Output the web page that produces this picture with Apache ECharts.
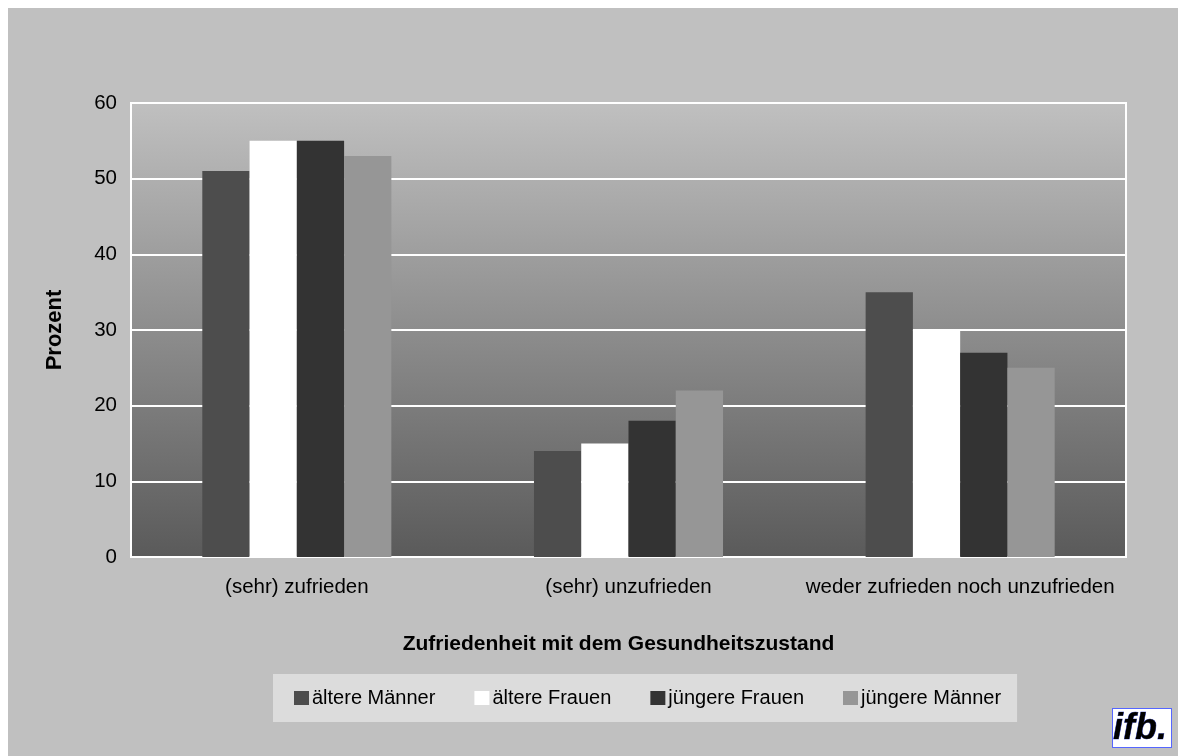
<!DOCTYPE html>
<html>
<head>
<meta charset="utf-8">
<script src="https://cdn.jsdelivr.net/npm/echarts@6/dist/echarts.min.js"></script>
<style>
  body { margin: 8px 0 0 8px; background: #ffffff; }
  #chart { width: 1170px; height: 748px; background: #c0c0c0; }
</style>
</head>
<body>
<div id="chart"></div>
<script>
// Kategorien und Werte (Prozent)
const categories = ["(sehr) zufrieden", "(sehr) unzufrieden", "weder zufrieden noch unzufrieden"];
const seriesNames = ["ältere Männer", "ältere Frauen", "jüngere Frauen", "jüngere Männer"];
const aeltereMaenner = [51, 14, 35];
const aeltereFrauen = [55, 15, 30];
const juengereFrauen = [55, 18, 27];
const juengereMaenner = [53, 22, 25];
const yTicks = [0, 10, 20, 30, 40, 50, 60];

const colors = ["#4d4d4d", "#ffffff", "#333333", "#969696"];
const values = [aeltereMaenner, aeltereFrauen, juengereFrauen, juengereMaenner];
const font = "Liberation Sans, Arial, sans-serif";

const chart = echarts.init(document.getElementById("chart"));

const option = {
  backgroundColor: "#c0c0c0",
  animation: false,
  textStyle: { fontFamily: font, color: "#000" },
  grid: {
    left: 123,
    top: 95,
    width: 995,
    height: 454,
    show: true,
    borderColor: "#ffffff",
    borderWidth: 2,
    backgroundColor: new echarts.graphic.LinearGradient(0, 0, 0, 1, [
      { offset: 0, color: "#c0c0c0" },
      { offset: 1, color: "#5a5a5a" },
    ]),
  },
  legend: {
    data: seriesNames,
    left: 265,
    top: 666,
    padding: [14, 16, 14, 21],
    backgroundColor: "#dcdcdc",
    itemWidth: 15,
    itemHeight: 14,
    itemGap: 39,
    icon: "rect",
    textStyle: { fontFamily: font, fontSize: 20, color: "#000", padding: [0, 0, 0, -2] },
  },
  xAxis: {
    type: "category",
    data: categories,
    name: "Zufriedenheit mit dem Gesundheitszustand",
    nameLocation: "middle",
    nameGap: 77,
    nameTextStyle: { fontFamily: font, fontSize: 21, fontWeight: "bold", color: "#000", padding: [0, 20, 0, 0] },
    axisLine: { lineStyle: { color: "#ffffff", width: 2 } },
    axisTick: { show: false },
    axisLabel: { fontFamily: font, fontSize: 20.5, color: "#000", margin: 20, interval: 0, hideOverlap: false },
  },
  yAxis: {
    type: "value",
    min: yTicks[0],
    max: yTicks[yTicks.length - 1],
    interval: 10,
    name: "Prozent",
    nameLocation: "middle",
    nameGap: 65,
    nameRotate: 90,
    nameTextStyle: { fontFamily: font, fontSize: 22, fontWeight: "bold", color: "#000" },
    axisLine: { show: true, lineStyle: { color: "#ffffff", width: 2 } },
    axisTick: { show: false },
    axisLabel: { fontFamily: font, fontSize: 20.5, color: "#000", margin: 14 },
    splitLine: { lineStyle: { color: "#ffffff", width: 2 } },
  },
  series: seriesNames.map((name, i) => ({
    name: name,
    type: "bar",
    data: values[i],
    barGap: "0%",
    barCategoryGap: "43%",
    itemStyle: { color: colors[i] },
  })),
  graphic: [
    {
      type: "text",
      right: 6,
      bottom: 8,
      style: {
        text: "ifb.",
        fontFamily: font,
        fontSize: 36,
        fontWeight: "bold",
        fontStyle: "italic",
        fill: "#000",
        stroke: "#2233cc",
        lineWidth: 0.6,
        backgroundColor: "#ffffff",
        borderColor: "#5566ff",
        borderWidth: 1,
        padding: [2, 4, 0, 0],
      },
    },
  ],
};

chart.setOption(option);
window.addEventListener("resize", () => chart.resize());
</script>
</body>
</html>
